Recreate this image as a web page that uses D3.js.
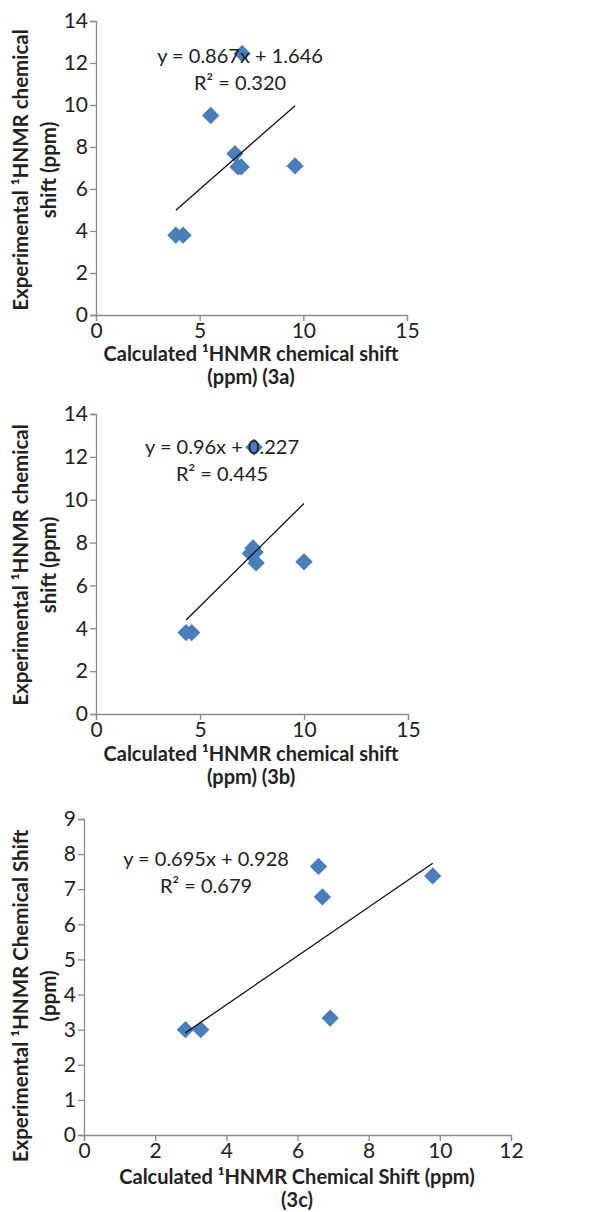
<!DOCTYPE html>
<html>
<head>
<meta charset="utf-8">
<script src="https://cdn.jsdelivr.net/npm/d3@7"></script>
<style>
  body { margin: 0; background: #fff; }
  text { font-family: Lato, "Open Sans", sans-serif; fill: #222; }
</style>
</head>
<body>
<div id="chart"></div>
<script>
// Data (calculated vs experimental 1H NMR shifts, ppm)
const calc3a = [3.85, 4.2, 5.53, 6.7, 6.85, 7.0, 7.05, 9.6];
const exp3a  = [3.8, 3.8, 9.5, 7.68, 7.05, 7.05, 12.45, 7.1];

const calc3b = [4.33, 4.6, 7.42, 7.55, 7.65, 7.7, 7.6, 10.0];
const exp3b  = [3.8, 3.8, 7.5, 7.75, 7.55, 7.05, 12.45, 7.1];

const calc3c = [2.85, 3.28, 6.59, 6.7, 9.8, 6.92];
const exp3c  = [3.0, 3.0, 7.65, 6.78, 7.38, 3.33];

// Trendline coefficients as printed on the chart
const slopes = [0.867, 0.96, 0.695];
const intercepts = [1.646, 0.227, 0.928];
const equations = ["y = 0.867x + 1.646", "y = 0.96x + 0.227", "y = 0.695x + 0.928"];
const r2Labels = ["R² = 0.320", "R² = 0.445", "R² = 0.679"];

const xTitles = [
    ["Calculated ¹HNMR chemical shift", "(ppm) (3a)"],
    ["Calculated ¹HNMR chemical shift", "(ppm) (3b)"],
    ["Calculated ¹HNMR Chemical Shift (ppm)", "(3c)"]
];
const yTitles = [
    ["Experimental ¹HNMR chemical", "shift (ppm)"],
    ["Experimental ¹HNMR chemical", "shift (ppm)"],
    ["Experimental ¹HNMR Chemical Shift", "(ppm)"]
];

const xTicks = [[0, 5, 10, 15], [0, 5, 10, 15], [0, 2, 4, 6, 8, 10, 12]];
const yTicks = [[0, 2, 4, 6, 8, 10, 12, 14], [0, 2, 4, 6, 8, 10, 12, 14], [0, 1, 2, 3, 4, 5, 6, 7, 8, 9]];

const width = 590, height = 1212;

const svg = d3.select("#chart")
    .append("svg")
    .attr("width", width)
    .attr("height", height);

// plot boxes (pixels) and label positions for each panel
const panels = [
    { calc: calc3a, exp: exp3a, left: 96, right: 407, top: 21, bottom: 315,
      eqX: 240, eqY: 63, xtX: 251, xtY: 361, ytX: 28, ytY: 170 },
    { calc: calc3b, exp: exp3b, left: 96, right: 408, top: 414, bottom: 714,
      eqX: 222, eqY: 454, xtX: 251, xtY: 761, ytX: 28, ytY: 565 },
    { calc: calc3c, exp: exp3c, left: 84, right: 511, top: 819, bottom: 1135,
      eqX: 206, eqY: 866, xtX: 297, xtY: 1184, ytX: 28, ytY: 996 }
];

panels.forEach((p, i) => {
    let x = d3.scaleLinear()
        .domain(d3.extent(xTicks[i]))
        .range([p.left, p.right]);

    let y = d3.scaleLinear()
        .domain(d3.extent(yTicks[i]))
        .range([p.bottom, p.top]);

    // Axes
    let xAxis = svg.append("g")
        .attr("transform", `translate(0,${p.bottom})`)
        .call(d3.axisBottom(x).tickValues(xTicks[i]).tickSize(6).tickPadding(2));

    let yAxis = svg.append("g")
        .attr("transform", `translate(${p.left},0)`)
        .call(d3.axisLeft(y).tickValues(yTicks[i]).tickSize(6).tickPadding(2));

    [xAxis, yAxis].forEach(ax => {
        ax.select(".domain").attr("stroke", "#8c8c8c").attr("stroke-width", 1.3);
        ax.selectAll(".tick line").attr("stroke", "#8c8c8c").attr("stroke-width", 1.3);
        ax.selectAll(".tick text")
            .style("font-family", "Lato, sans-serif")
            .style("font-size", "21px")
            .attr("fill", "#262626");
    });

    // Points (diamonds)
    let pts = p.calc.map((c, k) => ({ c: c, e: p.exp[k] }));
    svg.append("g")
        .selectAll("path")
        .data(pts)
        .enter()
        .append("path")
        .attr("d", d3.symbol(d3.symbolSquare, 150))
        .attr("transform", d => `translate(${x(d.c)},${y(d.e)}) rotate(45)`)
        .attr("fill", "#4a7ebb");

    // Linear trendline over the data range
    let xr = d3.extent(p.calc);
    let line = d3.line()
        .x(d => x(d))
        .y(d => y(slopes[i] * d + intercepts[i]));

    svg.append("path")
        .datum(xr)
        .attr("fill", "none")
        .attr("stroke", "#111")
        .attr("stroke-width", 1.3)
        .attr("d", line);

    // Equation and R²
    svg.append("text")
        .attr("x", p.eqX)
        .attr("y", p.eqY)
        .attr("text-anchor", "middle")
        .style("font-size", "20px")
        .text(equations[i]);

    svg.append("text")
        .attr("x", p.eqX)
        .attr("y", p.eqY + 27)
        .attr("text-anchor", "middle")
        .style("font-size", "20px")
        .text(r2Labels[i]);

    // Axis titles
    xTitles[i].forEach((t, k) => {
        svg.append("text")
            .attr("x", p.xtX)
            .attr("y", p.xtY + k * 23)
            .attr("text-anchor", "middle")
            .style("font-size", "20px")
            .style("font-weight", "bold")
            .text(t);
    });

    yTitles[i].forEach((t, k) => {
        svg.append("text")
            .attr("transform", `translate(${p.ytX + k * 28},${p.ytY}) rotate(-90)`)
            .attr("text-anchor", "middle")
            .style("font-size", "20.5px")
            .style("font-weight", "bold")
            .text(t);
    });
});
</script>
</body>
</html>
